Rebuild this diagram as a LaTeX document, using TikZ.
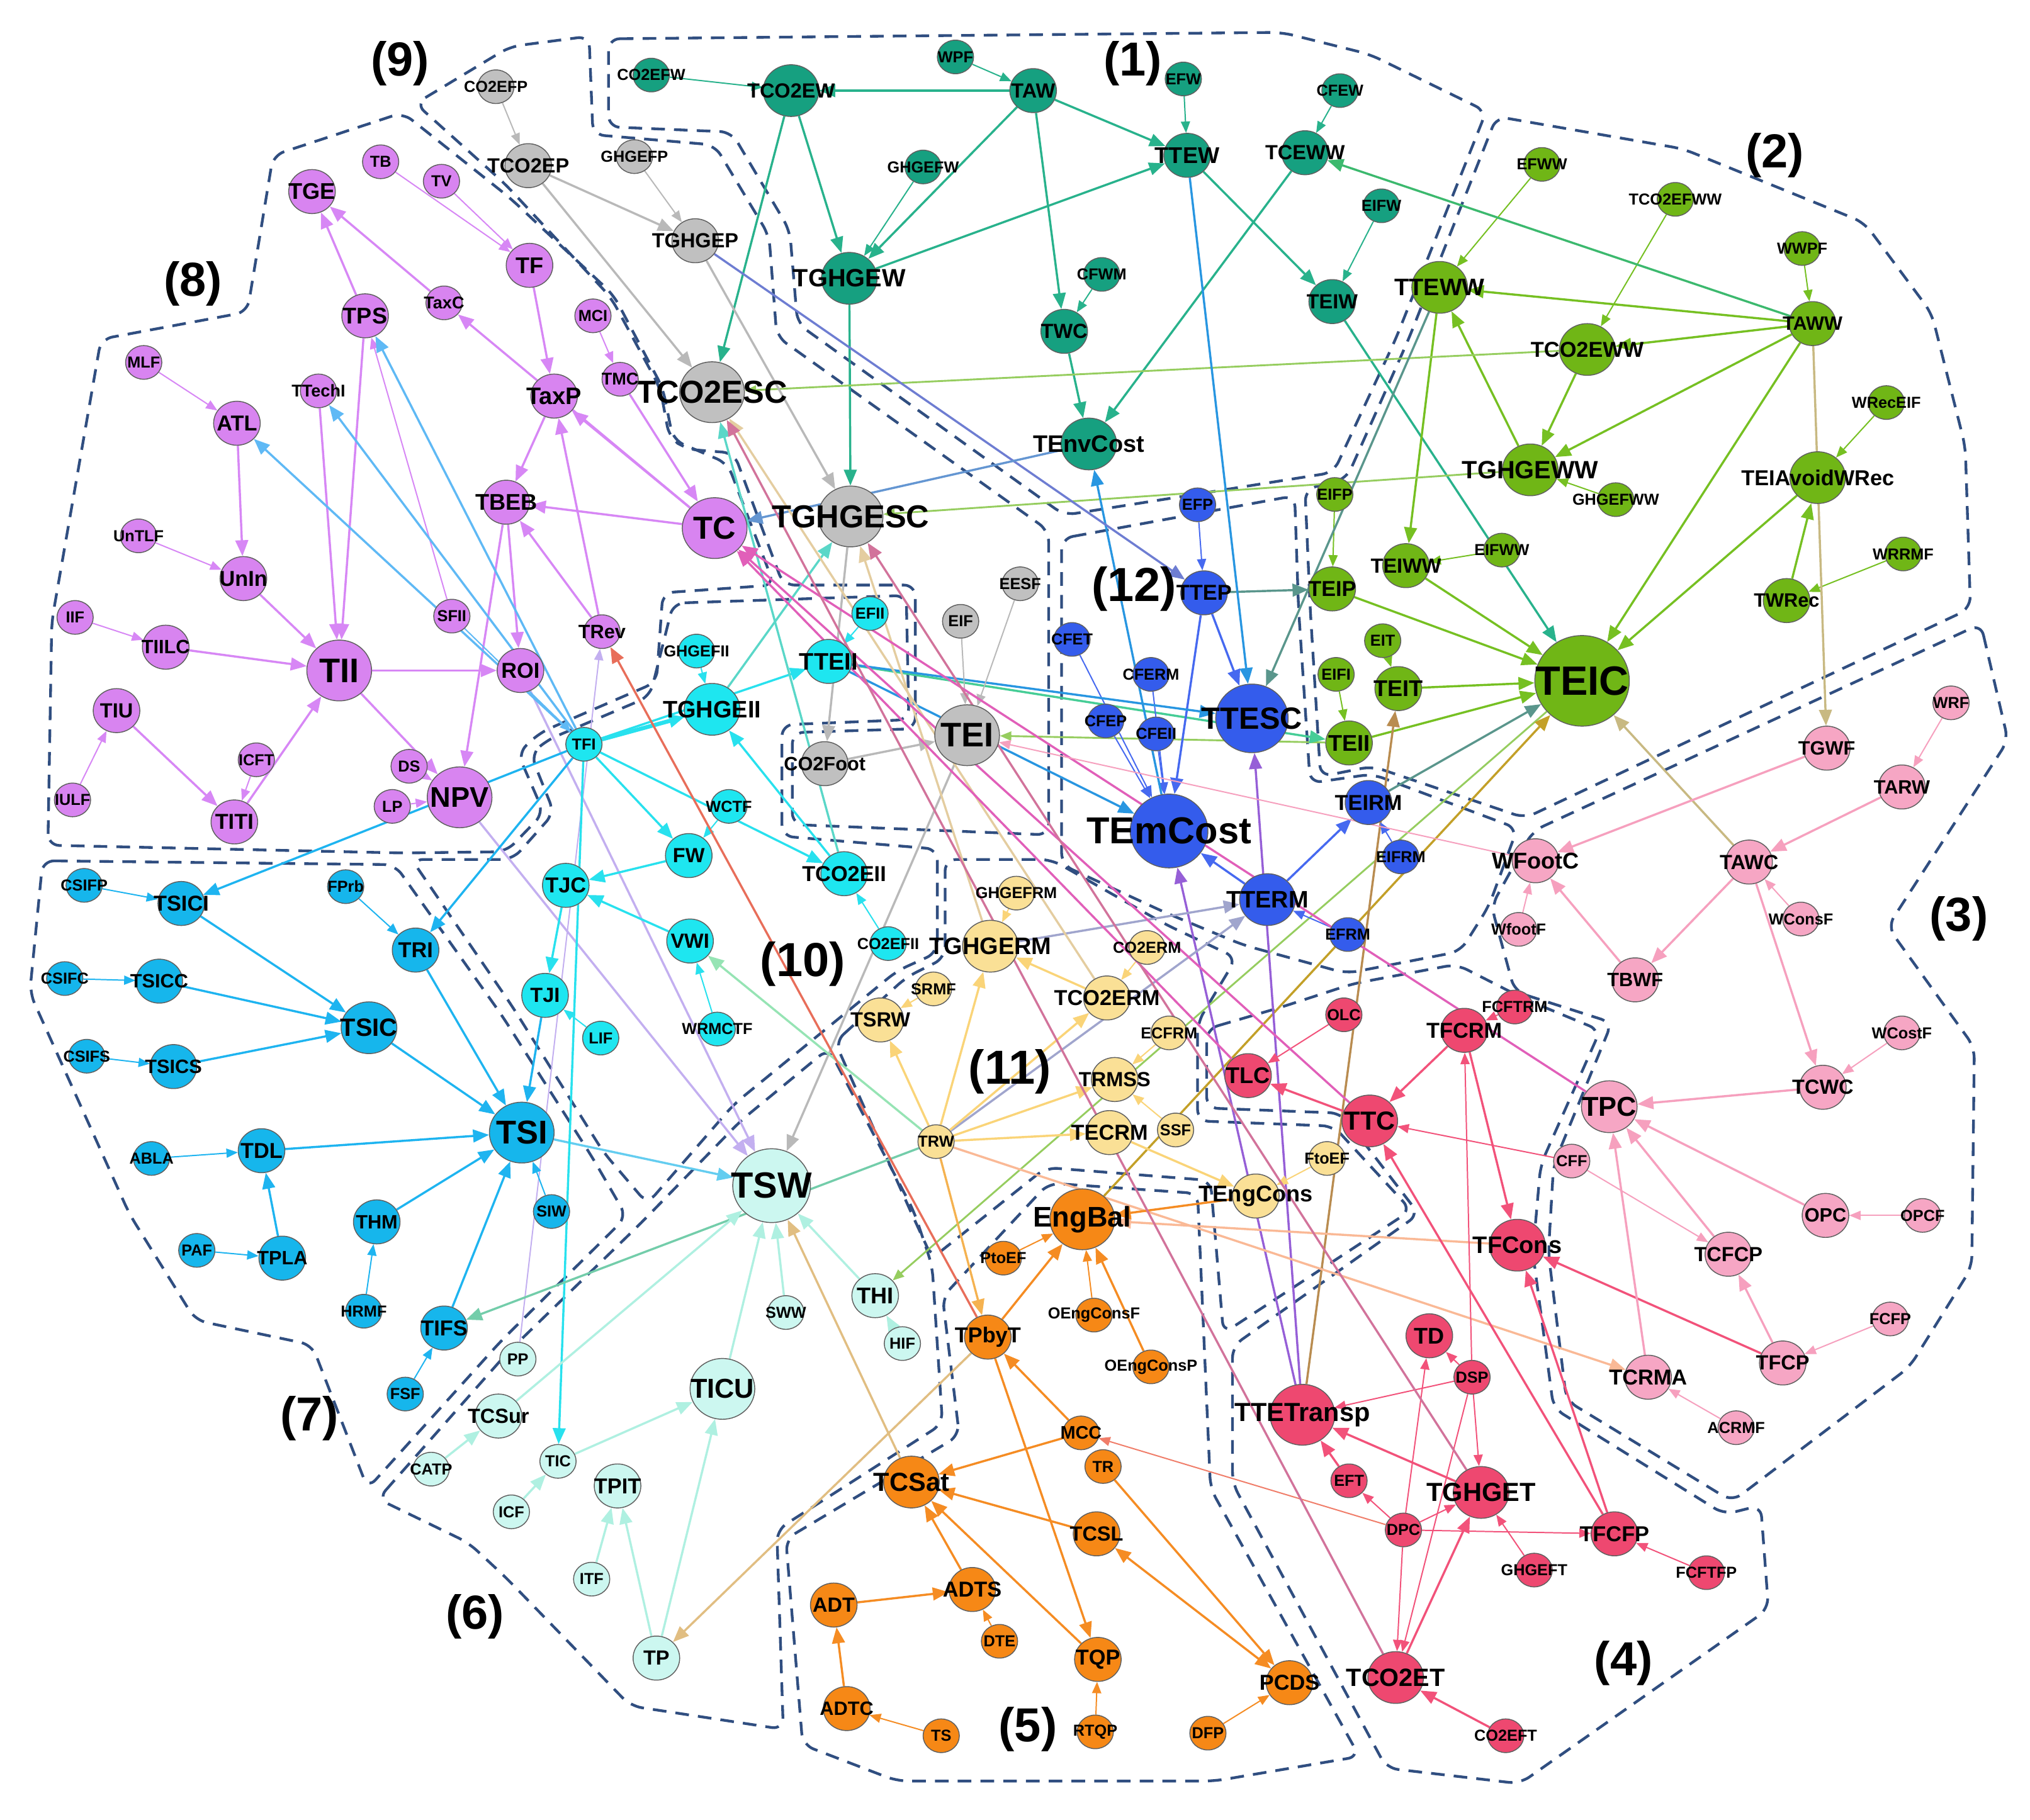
\documentclass[tikz,border=0pt]{standalone}
\usepackage{fontspec}
\setmainfont{Liberation Sans}
\usetikzlibrary{shapes.geometric,arrows.meta}
\pgfdeclarelayer{bg}
\pgfsetlayers{bg,main}

\definecolor{rim}{RGB}{95,95,95}
\definecolor{zcol}{RGB}{48,78,128}
\definecolor{gA}{RGB}{22,160,128}
\definecolor{gB}{RGB}{112,182,22}
\definecolor{gC}{RGB}{246,166,196}
\definecolor{gD}{RGB}{238,72,112}
\definecolor{gE}{RGB}{246,136,22}
\definecolor{gF}{RGB}{204,247,240}
\definecolor{gG}{RGB}{22,182,236}
\definecolor{gH}{RGB}{216,132,240}
\definecolor{gI}{RGB}{192,192,192}
\definecolor{gJ}{RGB}{30,230,240}
\definecolor{gK}{RGB}{250,224,150}
\definecolor{gL}{RGB}{52,92,236}
\definecolor{lA}{RGB}{40,178,140}
\definecolor{lB}{RGB}{118,192,34}
\definecolor{lB2}{RGB}{150,205,95}
\definecolor{lC}{RGB}{246,160,190}
\definecolor{lD}{RGB}{242,82,122}
\definecolor{lE}{RGB}{245,140,35}
\definecolor{lF}{RGB}{175,240,225}
\definecolor{lG}{RGB}{30,180,240}
\definecolor{lH}{RGB}{215,135,245}
\definecolor{lI}{RGB}{185,185,185}
\definecolor{lJ}{RGB}{40,225,238}
\definecolor{lK}{RGB}{250,212,120}
\definecolor{lL}{RGB}{70,105,240}
\definecolor{tealgreen}{RGB}{60,185,110}
\definecolor{seagreen}{RGB}{70,205,150}
\definecolor{slate}{RGB}{90,150,140}
\definecolor{khaki}{RGB}{200,185,130}
\definecolor{olive2}{RGB}{195,160,40}
\definecolor{brown2}{RGB}{185,140,80}
\definecolor{azure}{RGB}{40,150,225}
\definecolor{peri}{RGB}{110,125,210}
\definecolor{steel}{RGB}{100,150,210}
\definecolor{grape}{RGB}{150,95,215}
\definecolor{mist}{RGB}{160,165,205}
\definecolor{lilac}{RGB}{195,175,240}
\definecolor{skyline}{RGB}{95,185,245}
\definecolor{iceblue}{RGB}{100,205,240}
\definecolor{aqua}{RGB}{90,215,200}
\definecolor{mint}{RGB}{115,205,170}
\definecolor{mint2}{RGB}{150,228,180}
\definecolor{sand}{RGB}{225,190,130}
\definecolor{amber}{RGB}{245,178,80}
\definecolor{wheat2}{RGB}{228,205,160}
\definecolor{peach}{RGB}{250,185,150}
\definecolor{brick}{RGB}{232,110,90}
\definecolor{salmon}{RGB}{240,125,105}
\definecolor{rose}{RGB}{225,95,185}
\definecolor{mauve}{RGB}{210,115,155}

\tikzset{
  fs/.style={font=\bfseries\fontsize{#1}{#1}\selectfont},
  bub/.style={ellipse, draw=rim, line width=0.4pt, inner sep=0pt},
  vs/.style={bub, minimum width=0.56cm, minimum height=0.52cm, fs=7},
  vm/.style={bub, minimum width=0.72cm, minimum height=0.68cm, fs=9},
  vl/.style={bub, minimum width=0.86cm, minimum height=0.8cm, fs=10.5},
  vxl/.style={bub, minimum width=1.0cm, minimum height=0.94cm, fs=13.5},
  vxxl/.style={bub, minimum width=1.2cm, minimum height=1.14cm, fs=16},
  ed/.style={line width=0.95pt, -{Triangle[length=7pt,width=5.6pt]}},
  et/.style={line width=0.55pt, -{Triangle[length=5pt,width=4pt]}},
  zline/.style={zcol, dashed, dash pattern=on 6pt off 4pt, line width=1.2pt, rounded corners=5pt},
  zlbl/.style={fs=21}
}

\newcommand\vtx[3]{\node[#1] (#2) at (#3) {\makebox[0pt]{#2}};}

\begin{document}
\begin{tikzpicture}[x=0.02cm,y=-0.02cm]
\useasboundingbox (0,0) rectangle (1568,1406);

% (9)
\vtx{vs,fill=gI}{CO2EFP}{383,67}
\vtx{vm,fill=gI}{TCO2EP}{408,128}
\vtx{vs,fill=gI}{GHGEFP}{490,121}
\vtx{vm,fill=gI}{TGHGEP}{537,186}
\vtx{vxl,fill=gI,fs=14}{TCO2ESC}{550,303}
\vtx{vxl,fill=gI,fs=14}{TGHGESC}{657,399}
\vtx{vs,fill=gI}{EESF}{788,451}
\vtx{vs,fill=gI}{EIF}{742,480}
\vtx{vxl,fill=gI,fs=15}{TEI}{747,568}
\vtx{vm,fill=gI,fs=8.5}{CO2Foot}{637,590}

% (1)
\vtx{vs,fill=gA}{CO2EFW}{503,58}
\vtx{vl,fill=gA,fs=9}{TCO2EW}{611,70}
\vtx{vs,fill=gA}{WPF}{738,44}
\vtx{vm,fill=gA}{TAW}{798,70}
\vtx{vs,fill=gA}{EFW}{914,61}
\vtx{vm,fill=gA,fs=10}{TTEW}{917,120}
\vtx{vs,fill=gA}{CFEW}{1035,70}
\vtx{vm,fill=gA}{TCEWW}{1008,118}
\vtx{vs,fill=gA}{GHGEFW}{713,129}
\vtx{vl,fill=gA,fs=11}{TGHGEW}{656,215}
\vtx{vs,fill=gA}{CFWM}{851,212}
\vtx{vm,fill=gA}{TWC}{822,256}
\vtx{vs,fill=gA}{EIFW}{1067,159}
\vtx{vm,fill=gA}{TEIW}{1029,233}
\vtx{vl,fill=gA,fs=10.5}{TEnvCost}{841,343}

% (2)
\vtx{vs,fill=gB}{EFWW}{1191,127}
\vtx{vs,fill=gB}{TCO2EFWW}{1294,154}
\vtx{vs,fill=gB}{WWPF}{1392,192}
\vtx{vl,fill=gB,fs=10.5}{TTEWW}{1112,222}
\vtx{vm,fill=gB,fs=8.5}{TAWW}{1400,250}
\vtx{vl,fill=gB,fs=9.5}{TCO2EWW}{1226,270}
\vtx{vs,fill=gB}{WRecEIF}{1457,311}
\vtx{vl,fill=gB,fs=11}{TGHGEWW}{1182,363}
\vtx{vs,fill=gB}{GHGEFWW}{1248,386}
\vtx{vl,fill=gB,fs=9.5}{TEIAvoidWRec}{1404,369}
\vtx{vs,fill=gB}{EIFP}{1031,382}
\vtx{vs,fill=gB}{EIFWW}{1160,425}
\vtx{vs,fill=gB}{WRRMF}{1470,428}
\vtx{vm,fill=gB}{TEIWW}{1086,437}
\vtx{vm,fill=gB,fs=9.5}{TEIP}{1029,455}
\vtx{vm,fill=gB,fs=8.5}{TWRec}{1380,464}
\vtx{vs,fill=gB}{EIT}{1068,495}
\vtx{vs,fill=gB}{EIFI}{1032,521}
\vtx{vm,fill=gB,fs=10}{TEIT}{1080,532}
\vtx{bub,fill=gB,minimum width=1.46cm,minimum height=1.4cm,fs=18}{TEIC}{1222,526}
\vtx{vm,fill=gB,fs=10}{TEII}{1042,574}

% (12)
\vtx{vs,fill=gL}{EFP}{925,390}
\vtx{vm,fill=gL,fs=9.5}{TTEP}{930,458}
\vtx{vs,fill=gL}{CFET}{828,494}
\vtx{vs,fill=gL}{CFERM}{889,521}
\vtx{vs,fill=gL}{CFEP}{854,557}
\vtx{vs,fill=gL}{CFEII}{893,567}
\vtx{bub,fill=gL,minimum width=1.12cm,minimum height=1.06cm,fs=13.5}{TTESC}{967,555}
\vtx{vxxl,fill=gL,fs=16.5}{TEmCost}{903,642}
\vtx{vm,fill=gL,fs=9.5}{TEIRM}{1057,620}
\vtx{vs,fill=gL}{EIFRM}{1082,662}
\vtx{vl,fill=gL,fs=10.5}{TTERM}{979,695}
\vtx{vs,fill=gL}{EFRM}{1041,722}

% (8)
\vtx{vs,fill=gH}{TB}{294,125}
\vtx{vs,fill=gH}{TV}{341,140}
\vtx{vm,fill=gH,fs=10}{TGE}{241,148}
\vtx{vm,fill=gH,fs=10}{TF}{409,205}
\vtx{vm,fill=gH,fs=10}{TPS}{282,244}
\vtx{vs,fill=gH,fs=7.5}{TaxC}{343,234}
\vtx{vs,fill=gH}{MCI}{458,244}
\vtx{vs,fill=gH}{MLF}{111,280}
\vtx{vs,fill=gH,fs=7.5}{TMC}{479,293}
\vtx{vs,fill=gH,fs=7.5}{TTechI}{246,302}
\vtx{vm,fill=gH,fs=9.5}{ATL}{183,327}
\vtx{vm,fill=gH,fs=10.5}{TaxP}{428,306}
\vtx{vm,fill=gH,fs=10}{TBEB}{391,388}
\vtx{vxl,fill=gH,fs=14}{TC}{552,408}
\vtx{vs,fill=gH}{UnTLF}{107,414}
\vtx{vm,fill=gH,fs=9.5}{UnIn}{188,447}
\vtx{vs,fill=gH}{SFII}{349,476}
\vtx{vs,fill=gH}{IIF}{58,477}
\vtx{vs,fill=gH,fs=8.5}{TRev}{465,488}
\vtx{vm,fill=gH,fs=8.5}{TIILC}{128,500}
\vtx{vxl,fill=gH,fs=15}{TII}{262,518}
\vtx{vm,fill=gH,fs=9.5}{ROI}{402,518}
\vtx{vm,fill=gH,fs=9}{TIU}{90,549}
\vtx{vs,fill=gH}{ICFT}{198,587}
\vtx{vs,fill=gH}{DS}{316,592}
\vtx{vm,fill=gH,fs=9.5}{TITI}{181,635}
\vtx{vs,fill=gH}{IULF}{56,618}
\vtx{vs,fill=gH}{LP}{303,623}
\vtx{vxl,fill=gH,fs=12.5}{NPV}{355,616}

% (10)
\vtx{vs,fill=gJ}{EFII}{672,474}
\vtx{vs,fill=gJ}{GHGEFII}{538,503}
\vtx{vm,fill=gJ,fs=10.5}{TTEII}{640,511}
\vtx{vl,fill=gJ,fs=10.5}{TGHGEII}{550,548}
\vtx{vs,fill=gJ}{TFI}{451,575}
\vtx{vs,fill=gJ}{WCTF}{563,623}
\vtx{vm,fill=gJ,fs=9}{FW}{532,661}
\vtx{vm,fill=gJ,fs=9.5}{TCO2EII}{652,675}
\vtx{vm,fill=gJ,fs=9.5}{TJC}{437,684}
\vtx{vm,fill=gJ,fs=9}{VWI}{533,727}
\vtx{vs,fill=gJ}{CO2EFII}{686,729}
\vtx{vm,fill=gJ,fs=9}{TJI}{421,769}
\vtx{vs,fill=gJ}{WRMCTF}{554,795}
\vtx{vs,fill=gJ}{LIF}{464,802}

% (7)
\vtx{vs,fill=gG}{CSIFP}{65,684}
\vtx{vm,fill=gG,fs=9.5}{TSICI}{140,698}
\vtx{vs,fill=gG}{FPrb}{267,685}
\vtx{vm,fill=gG,fs=9.5}{TRI}{321,734}
\vtx{vs,fill=gG}{CSIFC}{50,756}
\vtx{vm,fill=gG,fs=8.5}{TSICC}{123,758}
\vtx{vl,fill=gG,fs=11}{TSIC}{285,794}
\vtx{vs,fill=gG}{CSIFS}{67,816}
\vtx{vm,fill=gG,fs=8.5}{TSICS}{134,824}
\vtx{vxl,fill=gG,fs=14.5}{TSI}{403,875}
\vtx{vs,fill=gG}{ABLA}{117,895}
\vtx{vm,fill=gG,fs=9.5}{TDL}{202,889}
\vtx{vs,fill=gG}{SIW}{426,936}
\vtx{vm,fill=gG,fs=8.5}{THM}{291,944}
\vtx{vs,fill=gG}{PAF}{152,966}
\vtx{vm,fill=gG,fs=8.5}{TPLA}{218,972}
\vtx{vs,fill=gG}{HRMF}{281,1013}
\vtx{vm,fill=gG,fs=9.5}{TIFS}{343,1026}
\vtx{vs,fill=gG}{FSF}{313,1077}

% (6)
\vtx{vxxl,fill=gF,fs=16}{TSW}{596,916}
\vtx{vs,fill=gF}{SWW}{607,1014}
\vtx{vm,fill=gF,fs=10}{THI}{676,1001}
\vtx{vs,fill=gF}{HIF}{697,1038}
\vtx{vs,fill=gF}{PP}{400,1050}
\vtx{vxl,fill=gF,fs=12}{TICU}{558,1073}
\vtx{vm,fill=gF,fs=9}{TCSur}{385,1094}
\vtx{vs,fill=gF}{CATP}{333,1135}
\vtx{vs,fill=gF}{TIC}{431,1129}
\vtx{vm,fill=gF,fs=9.5}{TPIT}{477,1148}
\vtx{vs,fill=gF}{ICF}{395,1168}
\vtx{vs,fill=gF}{ITF}{457,1220}
\vtx{vm,fill=gF,fs=9}{TP}{507,1281}

% (11)
\vtx{vs,fill=gK}{GHGEFRM}{785,690}
\vtx{vl,fill=gK,fs=10.5}{TGHGERM}{765,731}
\vtx{vs,fill=gK}{CO2ERM}{886,732}
\vtx{vs,fill=gK}{SRMF}{721,764}
\vtx{vm,fill=gK,fs=9}{TSRW}{680,788}
\vtx{vm,fill=gK,fs=9.5}{TCO2ERM}{855,771}
\vtx{vs,fill=gK}{ECFRM}{903,798}
\vtx{vm,fill=gK,fs=9}{TRMSS}{861,834}
\vtx{vs,fill=gK}{TRW}{723,882}
\vtx{vm,fill=gK,fs=9.5}{TECRM}{857,875}
\vtx{vs,fill=gK}{SSF}{908,873}
\vtx{vs,fill=gK}{FtoEF}{1025,895}
\vtx{vm,fill=gK,fs=10}{TEngCons}{970,924}

% (5)
\vtx{vxl,fill=gE,fs=12.5}{EngBal}{836,942}
\vtx{vs,fill=gE}{PtoEF}{775,972}
\vtx{vs,fill=gE}{OEngConsF}{845,1016}
\vtx{vs,fill=gE}{OEngConsP}{889,1056}
\vtx{vm,fill=gE,fs=9.5}{TPbyT}{763,1033}
\vtx{vs,fill=gE,fs=8}{MCC}{835,1107}
\vtx{vs,fill=gE}{TR}{852,1133}
\vtx{vl,fill=gE,fs=11.5}{TCSat}{704,1145}
\vtx{vm,fill=gE,fs=9}{TCSL}{847,1185}
\vtx{vm,fill=gE,fs=9}{ADT}{644,1240}
\vtx{vm,fill=gE,fs=9.5}{ADTS}{751,1228}
\vtx{vs,fill=gE}{DTE}{772,1268}
\vtx{vm,fill=gE,fs=9.5}{TQP}{848,1282}
\vtx{vm,fill=gE,fs=9.5}{PCDS}{996,1300}
\vtx{vm,fill=gE,fs=8.5}{ADTC}{654,1320}
\vtx{vs,fill=gE}{TS}{727,1341}
\vtx{vs,fill=gE}{RTQP}{846,1338}
\vtx{vs,fill=gE}{DFP}{933,1339}

% (4)
\vtx{vs,fill=gD}{OLC}{1038,784}
\vtx{vs,fill=gD}{FCFTRM}{1170,778}
\vtx{vm,fill=gD,fs=9.5}{TFCRM}{1131,796}
\vtx{vm,fill=gD,fs=10}{TLC}{964,831}
\vtx{vl,fill=gD,fs=11.5}{TTC}{1058,866}
\vtx{vl,fill=gD,fs=10.5}{TFCons}{1172,962}
\vtx{vm,fill=gD,fs=10}{TD}{1104,1032}
\vtx{vs,fill=gD}{DSP}{1137,1064}
\vtx{vxl,fill=gD,fs=11.5}{TTETransp}{1006,1093}
\vtx{vs,fill=gD}{EFT}{1042,1144}
\vtx{vs,fill=gD}{DPC}{1084,1182}
\vtx{vl,fill=gD,fs=11.5}{TGHGET}{1144,1153}
\vtx{vs,fill=gD}{GHGEFT}{1185,1213}
\vtx{vm,fill=gD,fs=9.5}{TFCFP}{1247,1185}
\vtx{vs,fill=gD}{FCFTFP}{1318,1215}
\vtx{vl,fill=gD,fs=11}{TCO2ET}{1078,1296}
\vtx{vs,fill=gD}{CO2EFT}{1163,1341}

% (3)
\vtx{vs,fill=gC}{WRF}{1507,543}
\vtx{vm,fill=gC,fs=8.5}{TGWF}{1411,578}
\vtx{vm,fill=gC,fs=8.5}{TARW}{1469,608}
\vtx{vm,fill=gC,fs=10}{WFootC}{1186,665}
\vtx{vm,fill=gC,fs=9}{TAWC}{1351,666}
\vtx{vs,fill=gC}{WfootF}{1173,718}
\vtx{vs,fill=gC}{WConsF}{1391,710}
\vtx{vm,fill=gC,fs=8.5}{TBWF}{1263,757}
\vtx{vs,fill=gC}{WCostF}{1469,798}
\vtx{vl,fill=gC,fs=12}{TPC}{1243,855}
\vtx{vm,fill=gC,fs=9}{TCWC}{1408,840}
\vtx{vs,fill=gC}{CFF}{1214,897}
\vtx{vm,fill=gC,fs=8.5}{OPC}{1410,939}
\vtx{vs,fill=gC}{OPCF}{1485,939}
\vtx{vm,fill=gC,fs=9}{TCFCP}{1335,969}
\vtx{vs,fill=gC}{FCFP}{1460,1019}
\vtx{vm,fill=gC,fs=9}{TFCP}{1377,1053}
\vtx{vm,fill=gC,fs=9.5}{TCRMA}{1273,1064}
\vtx{vs,fill=gC}{ACRMF}{1341,1103}

\node[zlbl] (z1) at (875,49) {(1)};
\node[zlbl] (z2) at (1371,120) {(2)};
\node[zlbl] (z3) at (1513,710) {(3)};
\node[zlbl] (z4) at (1254,1285) {(4)};
\node[zlbl] (z5) at (794,1336) {(5)};
\node[zlbl] (z6) at (367,1249) {(6)};
\node[zlbl] (z7) at (239,1096) {(7)};
\node[zlbl] (z8) at (149,219) {(8)};
\node[zlbl] (z9) at (309,49) {(9)};
\node[zlbl] (z10) at (620,745) {(10)};
\node[zlbl] (z11) at (780,828) {(11)};
\node[zlbl] (z12) at (876,455) {(12)};

\begin{pgfonlayer}{bg}
\fill[white] (0,0) rectangle (1568,1406);

\draw[zline] (470,30) -- (990,25) -- (1058,42) -- (1148,86) -- (1078,262) -- (1030,365) -- (822,398) -- (616,250) -- (610,178) -- (565,102) -- (470,98) -- cycle;
\draw[zline] (1156,90) -- (1300,115) -- (1440,172) -- (1492,242) -- (1518,345) -- (1522,470) -- (1178,632) -- (1060,592) -- (1020,600) -- (1012,470) -- (1008,378) -- (1040,370) -- (1088,262) -- cycle;
\draw[zline] (1530,482) -- (1551,572) -- (1458,716) -- (1525,809) -- (1523,979) -- (1475,1056) -- (1338,1160) -- (1210,1082) -- (1196,968) -- (1200,900) -- (1245,790) -- (1170,766) -- (1152,700) -- (1184,642) -- cycle;
\draw[zline] (932,795) -- (990,778) -- (1045,760) -- (1125,745) -- (1178,772) -- (1236,796) -- (1190,900) -- (1184,968) -- (1200,1088) -- (1332,1170) -- (1360,1163) -- (1366,1243) -- (1174,1378) -- (1071,1366) -- (952,1146) -- (952,1040) -- (1096,938) -- (1036,860) -- (932,856) -- cycle;
\draw[zline] (741,1109) -- (728,1002) -- (810,914) -- (925,922) -- (935,1150) -- (1050,1357) -- (938,1376) -- (693,1376) -- (620,1348) -- (607,1189) -- cycle;
\draw[zline] (292,1158) -- (392,1045) -- (495,945) -- (572,866) -- (640,810) -- (706,936) -- (720,978) -- (728,1100) -- (600,1182) -- (605,1336) -- (487,1318) -- (391,1219) -- (362,1192) -- cycle;
\draw[zline] (33,665) -- (305,668) -- (388,785) -- (458,895) -- (484,940) -- (387,1036) -- (284,1150) -- (241,1039) -- (151,1020) -- (100,938) -- (23,767) -- cycle;
\draw[zline] (37,653) -- (40,480) -- (78,262) -- (191,241) -- (211,120) -- (311,87) -- (394,153) -- (474,228) -- (512,300) -- (520,340) -- (562,358) -- (598,452) -- (512,458) -- (507,527) -- (417,566) -- (400,582) -- (420,628) -- (391,658) -- (311,659) -- cycle;
\draw[zline] (321,80) -- (394,36) -- (455,28) -- (458,104) -- (552,112) -- (594,182) -- (600,260) -- (810,410) -- (810,645) -- (612,637) -- (612,566) -- (707,563) -- (707,452) -- (605,452) -- (567,350) -- (530,347) -- (517,338) -- (510,300) -- (472,230) -- (390,142) -- cycle;
\draw[zline] (520,466) -- (700,460) -- (702,556) -- (604,560) -- (604,646) -- (724,656) -- (724,736) -- (693,750) -- (567,853) -- (500,930) -- (466,890) -- (396,778) -- (318,664) -- (396,664) -- (428,628) -- (410,583) -- (422,572) -- (502,538) -- cycle;
\draw[zline] (645,805) -- (700,755) -- (730,740) -- (730,664) -- (812,664) -- (900,714) -- (955,740) -- (925,790) -- (925,866) -- (1030,870) -- (1090,935) -- (945,1030) -- (935,912) -- (808,902) -- (720,972) -- (703,935) -- cycle;
\draw[zline] (820,416) -- (1000,383) -- (1003,470) -- (1012,605) -- (1060,598) -- (1172,640) -- (1150,700) -- (1128,735) -- (1040,752) -- (960,730) -- (900,705) -- (820,668) -- cycle;

\foreach \a/\b in {TAW/TCO2EW,TAW/TTEW,TAW/TWC,TAW/TGHGEW,TCO2EW/TGHGEW,TCO2EW/TCO2ESC,TGHGEW/TTEW,TGHGEW/TGHGESC,TWC/TEnvCost,TCEWW/TEnvCost,TTEW/TEIW,TEIW/TEIC}
  \draw[ed,lA] (\a) -- (\b);
\foreach \a/\b in {CO2EFW/TCO2EW,WPF/TAW,GHGEFW/TGHGEW,EFW/TTEW,CFEW/TCEWW,CFWM/TWC,EIFW/TEIW}
  \draw[et,lA] (\a) -- (\b);

\foreach \a/\b in {TAWW/TTEWW,TAWW/TCO2EWW,TAWW/TGHGEWW,TAWW/TEIC,TCO2EWW/TGHGEWW,TGHGEWW/TTEWW,TTEWW/TEIWW,TEIWW/TEIC,TEIP/TEIC,TWRec/TEIAvoidWRec,TEIAvoidWRec/TEIC,TEIT/TEIC,TEII/TEIC}
  \draw[ed,lB] (\a) -- (\b);
\foreach \a/\b in {EFWW/TTEWW,TCO2EFWW/TCO2EWW,WWPF/TAWW,GHGEFWW/TGHGEWW,EIFWW/TEIWW,EIFP/TEIP,WRecEIF/TEIAvoidWRec,WRRMF/TWRec,EIT/TEIT,EIFI/TEII}
  \draw[et,lB] (\a) -- (\b);
\foreach \a/\b in {TCO2EWW/TCO2ESC,TGHGEWW/TGHGESC,TEII/TEI,TEIC/THI}
  \draw[et,lB2,line width=0.8pt] (\a) -- (\b);
\draw[ed,tealgreen] (TAWW) -- (TCEWW);
\draw[ed,seagreen] (TTEII) -- (TEII);
\foreach \a/\b in {TTEWW/TTESC,TEIRM/TEIC,TTEP/TEIP}
  \draw[ed,slate] (\a) -- (\b);
\draw[ed,khaki] (TAWW) -- (TGWF);
\draw[ed,khaki] (TAWC) -- (TEIC);
\draw[ed,olive2] (EngBal) -- (TEIC);
\draw[ed,brown2] (TTETransp) -- (TEIT);

\foreach \a/\b in {TTEP/TTESC,TTEP/TEmCost,TTERM/TEmCost,TTERM/TEIRM}
  \draw[ed,lL] (\a) -- (\b);
\foreach \a/\b in {EFP/TTEP,CFET/TEmCost,CFERM/TEmCost,CFEP/TEmCost,CFEII/TEmCost,EFRM/TTERM,EIFRM/TEIRM}
  \draw[et,lL] (\a) -- (\b);
\foreach \a/\b in {TTEW/TTESC,TTEII/TTESC,TTEII/TEmCost,TEmCost/TEnvCost}
  \draw[ed,azure] (\a) -- (\b);
\draw[ed,peri] (TGHGEP) -- (TTEP);
\draw[ed,steel] (TEnvCost) -- (TC);
\draw[ed,grape] (TTETransp) -- (TTESC);
\draw[ed,grape] (TTETransp) -- (TEmCost);
\draw[ed,mist] (TGHGERM) -- (TTERM);
\draw[ed,mist] (TRW) -- (TTERM);

\foreach \a/\b in {TCO2EP/TCO2ESC,TCO2EP/TGHGEP,TGHGEP/TGHGESC,TGHGESC/CO2Foot,CO2Foot/TEI,TEI/TSW}
  \draw[ed,lI] (\a) -- (\b);
\foreach \a/\b in {CO2EFP/TCO2EP,GHGEFP/TGHGEP,EIF/TEI,EESF/TEI}
  \draw[et,lI] (\a) -- (\b);

\foreach \a/\b in {TF/TaxP,TMC/TC,TaxP/TBEB,TC/TaxP,TRev/TaxP,TaxC/TGE,TPS/TGE,TC/TaxC,TPS/TII,TTechI/TII,ATL/UnIn,UnIn/TII,TIILC/TII,TII/ROI,TII/NPV,TIU/TITI,TITI/TII,TBEB/ROI,TBEB/NPV,TC/TBEB,TRev/TBEB}
  \draw[ed,lH] (\a) -- (\b);
\foreach \a/\b in {TB/TF,TV/TF,MCI/TMC,SFII/TPS,MLF/ATL,UnTLF/UnIn,IIF/TIILC,IULF/TIU,ICFT/TITI,DS/NPV,LP/NPV}
  \draw[et,lH] (\a) -- (\b);
\draw[ed,lilac] (NPV) -- (TSW);
\draw[ed,lilac] (ROI) -- (TSW);
\draw[et,lilac] (PP) -- (TRev);
\foreach \a/\b in {TFI/ATL,TFI/TTechI,TFI/TPS}
  \draw[ed,skyline] (\a) -- (\b);
\draw[et,skyline] (SFII) -- (TFI);

\foreach \a/\b in {TFI/TSICI,TFI/TRI,TSICI/TSIC,TSICC/TSIC,TSICS/TSIC,TSIC/TSI,TRI/TSI,TDL/TSI,TPLA/TDL,THM/TSI,TIFS/TSI,TJI/TSI}
  \draw[ed,lG] (\a) -- (\b);
\foreach \a/\b in {CSIFP/TSICI,CSIFC/TSICC,CSIFS/TSICS,FPrb/TRI,ABLA/TDL,PAF/TPLA,HRMF/THM,FSF/TIFS,SIW/TSI}
  \draw[et,lG] (\a) -- (\b);
\draw[ed,iceblue] (TSI) -- (TSW);

\draw[ed,lJ,line width=1.8pt] (TFI) -- (TGHGEII);
\foreach \a/\b in {TFI/TTEII,TFI/FW,TFI/TCO2EII,TFI/TIC,TCO2EII/TGHGEII,FW/TJC,VWI/TJC,TJC/TJI}
  \draw[ed,lJ] (\a) -- (\b);
\foreach \a/\b in {EFII/TTEII,GHGEFII/TGHGEII,CO2EFII/TCO2EII,WCTF/FW,LIF/TJI,WRMCTF/VWI}
  \draw[et,lJ] (\a) -- (\b);
\draw[ed,aqua] (TGHGEII) -- (TGHGESC);
\draw[ed,aqua] (TCO2EII) -- (TCO2ESC);
\draw[ed,mint] (TRW) -- (TIFS);
\draw[ed,mint2] (TRW) -- (VWI);

\foreach \a/\b in {TCSur/TSW,TICU/TSW,SWW/TSW,THI/TSW,CATP/TCSur,TIC/TICU,TP/TPIT,TP/TICU,ICF/TIC,ITF/TPIT,HIF/THI}
  \draw[ed,lF] (\a) -- (\b);
\draw[ed,sand] (TCSat) -- (TSW);
\draw[ed,sand] (TPbyT) -- (TP);

\foreach \a/\b in {TRW/TSRW,TRW/TGHGERM,TRW/TCO2ERM,TCO2ERM/TGHGERM,TRW/TRMSS,TRW/TECRM,TECRM/TEngCons}
  \draw[ed,lK] (\a) -- (\b);
\foreach \a/\b in {GHGEFRM/TGHGERM,SRMF/TSRW,CO2ERM/TCO2ERM,ECFRM/TRMSS,SSF/TRMSS,FtoEF/TEngCons}
  \draw[et,lK] (\a) -- (\b);
\draw[ed,amber] (TRW) -- (TPbyT);
\draw[ed,wheat2] (TGHGERM) -- (TGHGESC);
\draw[ed,wheat2] (TCO2ERM) -- (TCO2ESC);
\draw[ed,peach] (TRW) -- (TCRMA);
\draw[ed,peach] (TFCons) -- (EngBal);

\foreach \a/\b in {TEngCons/EngBal,OEngConsP/EngBal,TPbyT/EngBal,MCC/TCSat,MCC/TPbyT,TPbyT/TQP,TCSL/TCSat,TQP/TCSat,ADTS/TCSat,ADT/ADTS,ADTC/ADT,TR/PCDS}
  \draw[ed,lE] (\a) -- (\b);
\foreach \a/\b in {PtoEF/EngBal,OEngConsF/EngBal,DTE/ADTS,TS/ADTC,RTQP/TQP,DFP/PCDS}
  \draw[et,lE] (\a) -- (\b);
\draw[lE,line width=0.95pt,{Triangle[length=7pt,width=5.6pt]}-{Triangle[length=7pt,width=5.6pt]}] (TCSL) -- (PCDS);
\draw[ed,brick] (TPbyT) -- (TRev);
\draw[et,salmon] (DPC) -- (MCC);

\foreach \a/\b in {TTC/TLC,TFCRM/TTC,TFCRM/TFCons,TFCFP/TFCons,TFCFP/TTC,EFT/TTETransp,TGHGET/TTETransp,TCO2ET/TGHGET,CO2EFT/TCO2ET,TFCP/TFCons}
  \draw[ed,lD] (\a) -- (\b);
\foreach \a/\b in {OLC/TLC,FCFTRM/TFCRM,DSP/TFCRM,DSP/TTETransp,DSP/TD,DPC/TD,DSP/TGHGET,DPC/TGHGET,DPC/TCO2ET,DSP/TCO2ET,GHGEFT/TGHGET,DPC/TFCFP,FCFTFP/TFCFP,DPC/EFT,CFF/TTC}
  \draw[et,lD] (\a) -- (\b);
\foreach \a/\b in {TTC/TC,TLC/TC,TPC/TC}
  \draw[ed,rose] (\a) -- (\b);
\draw[ed,mauve] (TCO2ET) -- (TCO2ESC);
\draw[ed,mauve] (TGHGET) -- (TGHGESC);

\foreach \a/\b in {TARW/TAWC,TGWF/WFootC,TBWF/WFootC,TAWC/TBWF,TAWC/TCWC,TCWC/TPC,OPC/TPC,TCFCP/TPC,TFCP/TCFCP,TCRMA/TPC}
  \draw[ed,lC] (\a) -- (\b);
\foreach \a/\b in {WRF/TARW,WfootF/WFootC,WConsF/TAWC,WCostF/TCWC,OPCF/OPC,CFF/TCFCP,FCFP/TFCP,ACRMF/TCRMA,WFootC/TEI}
  \draw[et,lC] (\a) -- (\b);
\end{pgfonlayer}
\end{tikzpicture}
\end{document}
